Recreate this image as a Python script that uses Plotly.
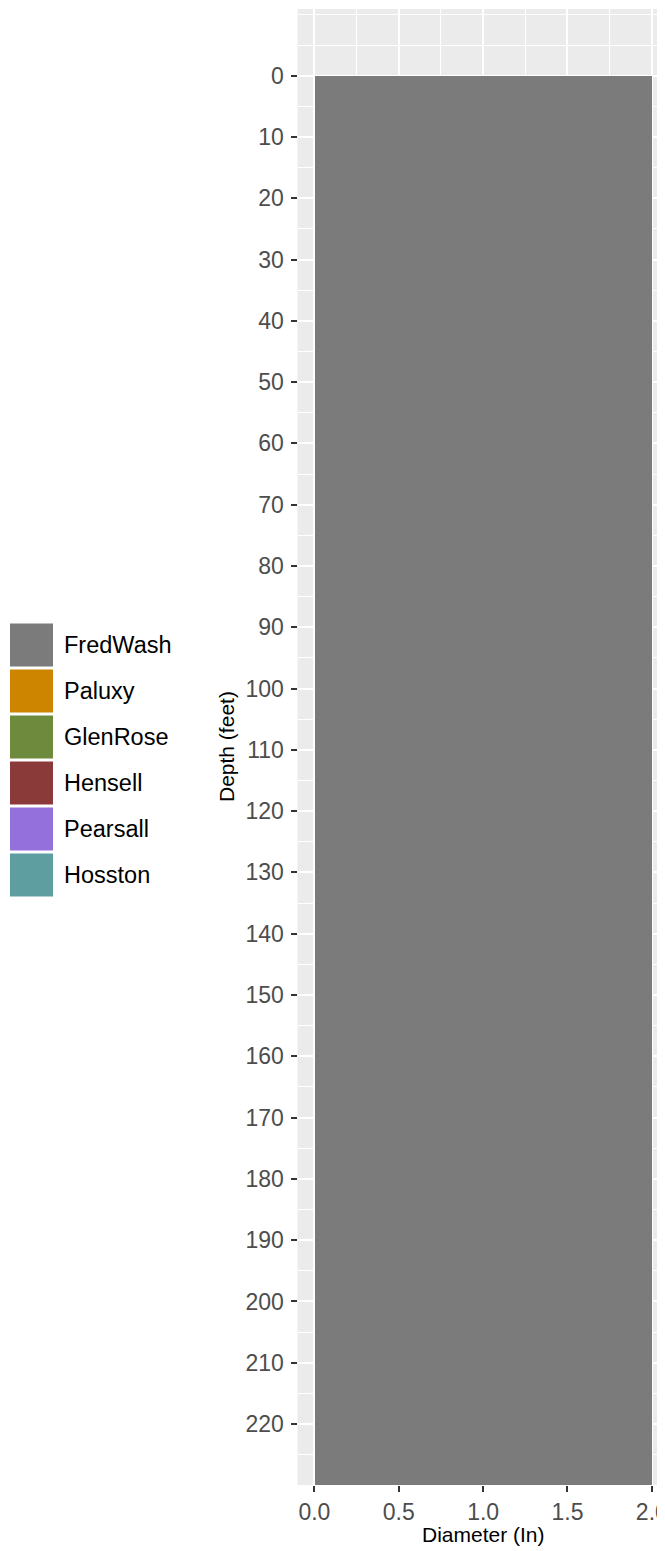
import plotly.graph_objects as go

# ---- data ----
formations = ["FredWash", "Paluxy", "GlenRose", "Hensell", "Pearsall", "Hosston"]
formation_colors = ["#7B7B7B", "#CD8500", "#6E8B3D", "#8B3A3A", "#9370DB", "#5F9EA0"]
bar_formation = ["FredWash"]
bar_top = [0]
bar_bottom = [230]
bar_diameter = [2.0]
y_ticks = list(range(0, 230, 10))
x_ticks = [0.0, 0.5, 1.0, 1.5, 2.0]
x_tick_labels = ["0.0", "0.5", "1.0", "1.5", "2.0"]

# page offset (default body margin of the html page)
OFF = 8
PAGE_W, PAGE_H = 665, 1551
W, H = PAGE_W - OFF, PAGE_H - OFF
FONT = "Liberation Sans, Arial, sans-serif"


def fx(px):
    return (px - OFF) / W


def fy(py):
    return (H - (py - OFF)) / H


fig = go.Figure()
cmap = dict(zip(formations, formation_colors))
for f, t, b, d in zip(bar_formation, bar_top, bar_bottom, bar_diameter):
    fig.add_trace(go.Bar(
        x=[d / 2], y=[b - t], base=[t], width=[d],
        marker=dict(color=cmap[f], line=dict(width=0)),
        showlegend=False, hoverinfo="skip"))

# panel geometry (page pixels)
px_left, px_right, px_top, px_bot = 297.5, 665, 9, 1485
fig.update_layout(
    width=W, height=H, margin=dict(l=0, r=0, t=0, b=0),
    paper_bgcolor="white", plot_bgcolor="#EBEBEB",
    font=dict(family=FONT),
    showlegend=False, bargap=0,
    xaxis=dict(
        domain=[fx(px_left), 1], range=[-0.1, 2.078],
        tickvals=x_ticks, ticktext=x_tick_labels,
        ticks="outside", ticklen=6, tickwidth=2, tickcolor="#333333",
        tickfont=dict(size=23, color="#4D4D4D", family=FONT),
        ticklabeloverflow="allow",
        showgrid=True, gridcolor="white", gridwidth=1.6,
        minor=dict(dtick=0.25, tick0=0, showgrid=True, gridcolor="white", gridwidth=1.0, ticks=""),
        zeroline=False, showline=False, automargin=False, fixedrange=True,
        anchor="y"),
    yaxis=dict(
        domain=[fy(px_bot), fy(px_top)], range=[229.95, -10.88],
        tickvals=y_ticks, ticktext=[str(v) for v in y_ticks],
        ticks="outside", ticklen=6, tickwidth=2, tickcolor="#333333",
        tickfont=dict(size=23, color="#4D4D4D", family=FONT),
        ticklabelstandoff=2,
        showgrid=True, gridcolor="white", gridwidth=1.6,
        minor=dict(dtick=5, tick0=0, showgrid=True, gridcolor="white", gridwidth=1.0, ticks=""),
        zeroline=False, showline=False, automargin=False, fixedrange=True,
        anchor="x"),
)

# axis titles
fig.add_annotation(x=fx(483), y=fy(1534), xref="paper", yref="paper",
                   text="Diameter (In)", showarrow=False,
                   font=dict(size=21, color="black", family=FONT),
                   xanchor="center", yanchor="middle")
fig.add_annotation(x=fx(226), y=fy(747), xref="paper", yref="paper",
                   text="Depth (feet)", showarrow=False, textangle=-90,
                   font=dict(size=21, color="black", family=FONT),
                   xanchor="center", yanchor="middle")

# legend (drawn manually to match large ggplot keys)
key_x0, key_x1 = 10, 53
first_center, step, key_h = 645, 46, 43
for i, (name, col) in enumerate(zip(formations, formation_colors)):
    cy = first_center + i * step
    fig.add_shape(type="rect", xref="paper", yref="paper",
                  x0=fx(key_x0), x1=fx(key_x1),
                  y0=fy(cy + key_h / 2), y1=fy(cy - key_h / 2),
                  fillcolor=col, line=dict(width=0), layer="above")
    fig.add_annotation(x=fx(62), y=fy(cy), xref="paper", yref="paper",
                       text=name, showarrow=False, xanchor="left", yanchor="middle",
                       font=dict(size=23.5, color="black", family=FONT))

fig.write_html("out.html")
